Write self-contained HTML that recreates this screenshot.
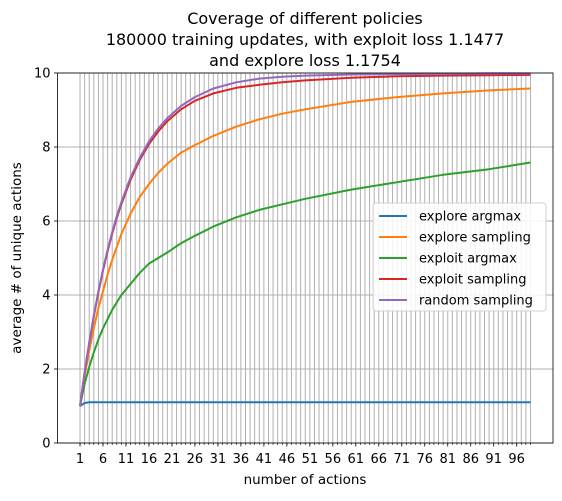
<!DOCTYPE html>
<html><head><meta charset="utf-8"><style>
body{margin:0;background:#fff}
svg text{font-family:"DejaVu Sans","Liberation Sans",sans-serif;fill:#000}
</style></head><body>
<svg id="chart" width="562" height="496" xmlns="http://www.w3.org/2000/svg">
<g id="grid"></g>
<g id="series"></g>
<g id="axes"></g>
<text x="305" y="24" text-anchor="middle" font-size="16">Coverage of different policies</text>
<text x="305" y="45" text-anchor="middle" font-size="16">180000 training updates, with exploit loss 1.1477</text>
<text x="305" y="66" text-anchor="middle" font-size="16">and explore loss 1.1754</text>
<text x="305" y="484" text-anchor="middle" font-size="13.5">number of actions</text>
<text transform="translate(21,258) rotate(-90)" text-anchor="middle" font-size="13.5">average # of unique actions</text>
<g id="legend"></g>
</svg>
<script>
const seriesNames=["explore argmax","explore sampling","exploit argmax","exploit sampling","random sampling"];
const colors=["#1f77b4","#ff7f0e","#2ca02c","#d62728","#9467bd"];
const xExploreArgmax=[1,2,3,99];
const yExploreArgmax=[1,1.08,1.1,1.1];
const xSamples=[1,2,3,4,5,6,7,8,9,10,12,14,16,18,20,23,26,30,35,40,45,50,60,70,80,90,99];
const yExploreSampling=[1,1.8,2.5,3.1,3.65,4.1,4.55,4.95,5.3,5.65,6.2,6.65,7.0,7.3,7.55,7.85,8.05,8.3,8.55,8.75,8.9,9.02,9.22,9.35,9.45,9.53,9.58];
const yExploitArgmax=[1,1.6,2.05,2.45,2.8,3.1,3.35,3.6,3.8,4.0,4.3,4.6,4.85,5.0,5.15,5.4,5.6,5.85,6.1,6.3,6.45,6.6,6.85,7.05,7.25,7.4,7.58];
const yExploitSampling=[1,1.9,2.7,3.42,4.07,4.66,5.18,5.66,6.08,6.46,7.12,7.65,8.08,8.42,8.7,9.02,9.25,9.45,9.6,9.68,9.75,9.8,9.87,9.91,9.93,9.94,9.95];
const yRandomSampling=[1,1.9,2.71,3.44,4.1,4.69,5.22,5.7,6.13,6.51,7.18,7.71,8.15,8.5,8.78,9.11,9.35,9.58,9.75,9.85,9.9,9.93,9.96,9.97,9.98,9.99,9.99];
const xTicks=[1,6,11,16,21,26,31,36,41,46,51,56,61,66,71,76,81,86,91,96];
const yTicks=[0,2,4,6,8,10];
const NS="http://www.w3.org/2000/svg";
const L=57.5,R=553,T=73,B=443,xmin=-3.9,xmax=103.9,ymin=0,ymax=10;
const sx=v=>L+(v-xmin)/(xmax-xmin)*(R-L);
const sy=v=>B-(v-ymin)/(ymax-ymin)*(B-T);
function mk(tag,attrs,parent){const e=document.createElementNS(NS,tag);for(const k in attrs)e.setAttribute(k,attrs[k]);parent.appendChild(e);return e;}
const grid=document.getElementById('grid'),axes=document.getElementById('axes'),series=document.getElementById('series'),legend=document.getElementById('legend');
for(let i=1;i<=99;i++){
 const l=mk('line',{x1:sx(i),x2:sx(i),y1:T,y2:B,stroke:'#b0b0b0','stroke-width':1},grid);
 
 
 const t=mk('line',{x1:sx(i),x2:sx(i),y1:B,y2:B+2,stroke:'#000','stroke-width':0.6},axes);
 
 
}
yTicks.forEach(v=>{
 const g=mk('line',{x1:L,x2:R,y1:sy(v),y2:sy(v),stroke:'#b0b0b0','stroke-width':1},grid);
 
 
 const t=mk('line',{x1:L-3.5,x2:L,y1:sy(v),y2:sy(v),stroke:'#000','stroke-width':0.8},axes);
 
 
 const tx=mk('text',{x:L-7,y:sy(v)+4.5,'text-anchor':'end','font-size':13},axes);
 tx.textContent=v;
 
 
});
xTicks.forEach(v=>{
 const t=mk('line',{x1:sx(v),x2:sx(v),y1:B,y2:B+3.5,stroke:'#000','stroke-width':0.8},axes);
 
 
 const tx=mk('text',{x:sx(v),y:B+20,'text-anchor':'middle','font-size':13},axes);
 tx.textContent=v;
 
 
});
const frame=mk('rect',{x:L,y:T,width:R-L,height:B-T,fill:'none',stroke:'#000','stroke-width':0.8},axes);


const data=[[xExploreArgmax,yExploreArgmax],[xSamples,yExploreSampling],[xSamples,yExploitArgmax],[xSamples,yExploitSampling],[xSamples,yRandomSampling]];
data.forEach((d,i)=>{
 const pts=d[0].map((x,j)=>sx(x).toFixed(1)+','+sy(d[1][j]).toFixed(1)).join(' ');
 const p=mk('polyline',{points:pts,fill:'none',stroke:colors[i],'stroke-width':2,'stroke-linejoin':'round'},series);
 
 
});
const lb=mk('rect',{x:373,y:203,width:173,height:108,rx:3,fill:'#fff','fill-opacity':0.85,stroke:'#d0d0d0','stroke-width':1},legend);


seriesNames.forEach((n,i)=>{
 const y=216+i*21;
 const ln=mk('line',{x1:379,x2:407,y1:y,y2:y,stroke:colors[i],'stroke-width':2},legend);
 
 
 const t=mk('text',{x:419,y:y+4.5,'font-size':13},legend);
 t.textContent=n;
 
 
});
</script>
</body></html>
